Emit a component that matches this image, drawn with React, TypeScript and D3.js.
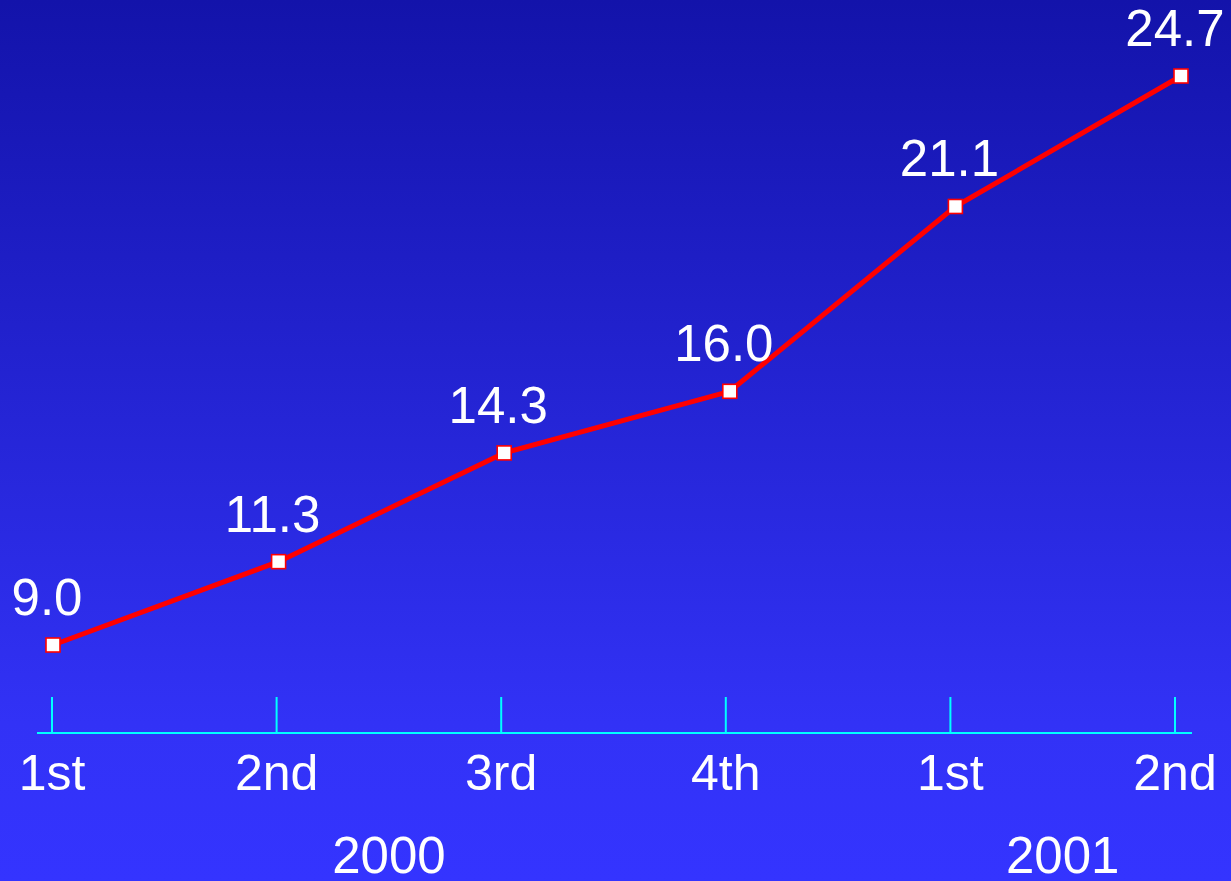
import React from "react";
import * as d3 from "d3";

const quarters: string[] = ["1st", "2nd", "3rd", "4th", "1st", "2nd"];
const values: number[] = [9.0, 11.3, 14.3, 16.0, 21.1, 24.7];
const years: string[] = ["2000", "2001"];
const yearSpans: [number, number][] = [[0, 3], [4, 5]];

const W = 1231;
const H = 881;

export default function App() {
  const idx = quarters.map((_, i) => i);
  const x = d3.scalePoint<number>().domain(idx).range([53, 1181]);
  const xt = d3.scalePoint<number>().domain(idx).range([52, 1175]);
  const y = d3.scaleLinear().domain([9, 24.7]).range([645, 76]);

  const line = d3
    .line<number>()
    .x((_, i) => x(i) as number)
    .y((d) => y(d));

  const axisY = 733;
  const font = "'Liberation Sans', Arial, Helvetica, sans-serif";
  const ms = 14;

  return (
    <svg
      width={W}
      height={H}
      style={{ position: "absolute", left: 0, top: 0, display: "block" }}
    >
      <defs>
        <linearGradient id="bg" x1="0" y1="0" x2="0" y2="1">
          <stop offset="0" stopColor="#1313aa" />
          <stop offset="0.82" stopColor="#3232f6" />
          <stop offset="1" stopColor="#3434ff" />
        </linearGradient>
      </defs>
      <rect x={0} y={0} width={W} height={H} fill="url(#bg)" />

      {/* axis */}
      <line x1={37} x2={1192} y1={axisY} y2={axisY} stroke="#00ffff" strokeWidth={2.2} />
      {idx.map((i) => (
        <line
          key={"t" + i}
          x1={xt(i)}
          x2={xt(i)}
          y1={697}
          y2={axisY}
          stroke="#00ffff"
          strokeWidth={2}
        />
      ))}
      {quarters.map((q, i) => (
        <text
          key={"q" + i}
          x={xt(i)}
          y={790}
          textAnchor="middle"
          fill="#ffffff"
          fontFamily={font}
          fontSize={50}
        >
          {q}
        </text>
      ))}
      {years.map((yr, k) => (
        <text
          key={"y" + k}
          x={((xt(yearSpans[k][0]) as number) + (xt(yearSpans[k][1]) as number)) / 2}
          y={873}
          textAnchor="middle"
          fill="#ffffff"
          fontFamily={font}
          fontSize={51}
        >
          {yr}
        </text>
      ))}

      {/* line */}
      <path d={line(values) || ""} fill="none" stroke="#ff0000" strokeWidth={5} strokeLinejoin="round" />
      {values.map((v, i) => (
        <rect
          key={"m" + i}
          x={(x(i) as number) - ms / 2}
          y={y(v) - ms / 2}
          width={ms}
          height={ms}
          fill="#ffffff"
          stroke="#ff0000"
          strokeWidth={1.6}
        />
      ))}
      {values.map((v, i) => (
        <text
          key={"v" + i}
          x={(x(i) as number) - 6}
          y={y(v) - 30}
          textAnchor="middle"
          fill="#ffffff"
          fontFamily={font}
          fontSize={51}
        >
          {v.toFixed(1)}
        </text>
      ))}
    </svg>
  );
}
